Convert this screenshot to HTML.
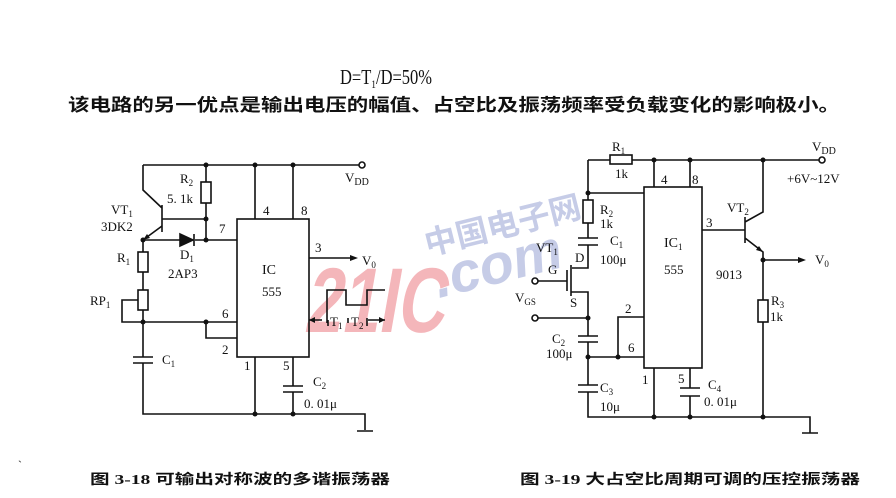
<!DOCTYPE html>
<html><head><meta charset="utf-8"><style>
html,body{margin:0;padding:0;background:#fff}
svg{display:block}
text{font-family:"Liberation Serif","Noto Serif CJK SC",serif;fill:#111}
.cj{font-family:"Liberation Serif","Noto Sans CJK SC",sans-serif;font-weight:bold}
</style></head><body>
<svg width="896" height="498" viewBox="0 0 896 498" xmlns="http://www.w3.org/2000/svg">
<!-- watermark -->
<g opacity="0.8">
<text x="362" y="332" font-size="92" transform="skewX(-10)" textLength="140" lengthAdjust="spacingAndGlyphs" style="font-family:'Liberation Sans',sans-serif;font-weight:bold;fill:#f2a4aa">21IC</text>
<text x="420" y="238" font-size="32" transform="rotate(-14 495 215)" style="font-family:'Noto Sans CJK SC',sans-serif;font-weight:bold;fill:#b8c0e2">中国电子网</text>
<text x="430" y="282" font-size="56" transform="rotate(-14 500 255)" style="font-family:'Liberation Sans',sans-serif;font-weight:bold;font-style:italic;fill:#b8c0e2">.com</text>
</g>
<text x="340" y="84" font-size="21" textLength="92" lengthAdjust="spacingAndGlyphs">D=T<tspan font-size="12" dy="4">1</tspan><tspan dy="-4">/D=50%</tspan></text>
<text x="68" y="111" class="cj" font-size="17.5" textLength="772" lengthAdjust="spacingAndGlyphs">该电路的另一优点是输出电压的幅值、占空比及振荡频率受负载变化的影响极小。</text>
<text x="90" y="484" class="cj" font-size="14" textLength="300" lengthAdjust="spacingAndGlyphs">图 3-18  可输出对称波的多谐振荡器</text>
<text x="520" y="484" class="cj" font-size="14" textLength="340" lengthAdjust="spacingAndGlyphs">图 3-19  大占空比周期可调的压控振荡器</text>
<text x="18" y="469" font-size="12">`</text>

<g stroke="#111" stroke-width="1.6" fill="none">
<!-- LEFT -->
<path d="M143 165H359"/><circle cx="362" cy="165" r="3" fill="#fff"/>
<rect x="237" y="219" width="72" height="138"/>
<path d="M255 165V219M293 165V219"/>
<path d="M206 165V182M206 203V240"/><rect x="201" y="182" width="10" height="21"/>
<path d="M143 165V190L162 208M162 205V232M162 219H206"/>
<path d="M162 226L143 240"/>
<path d="M143 240H180M195 240H237"/>
<path d="M180 234V246L193 240Z" fill="#111"/><path d="M194 234V246"/>
<path d="M143 240V252M143 272V290M143 310V357"/>
<rect x="138" y="252" width="10" height="20"/><rect x="138" y="290" width="10" height="20"/>
<path d="M138 300H122V322H237M206 322V338H237"/>
<path d="M133 357H153M133 363H153"/>
<path d="M143 363V414H365V430M357 431H373"/>
<path d="M255 357V414M293 357V386M293 392V414"/>
<path d="M283 386H303M283 392H303"/>
<path d="M309 258H352"/>
<path d="M327 323V290H346V305H367V290H385"/>
<path d="M309 320H322M328 320V326M348 323V318M367 318V326M368 320H385"/>
<!-- RIGHT -->
<path d="M588 160H610M632 160H819"/><circle cx="822" cy="160" r="3" fill="#fff"/>
<rect x="610" y="155" width="22" height="9"/>
<rect x="644" y="187" width="58" height="181"/>
<path d="M654 160V187M690 160V187"/>
<path d="M588 160V200M588 193H644M588 223V238M588 245V268H572"/>
<rect x="583" y="200" width="10" height="23"/>
<path d="M578 238H598M578 245H598"/>
<path d="M571 265V296M567 270V291"/>
<path d="M538 281H567M571 292H588V336"/>
<circle cx="535" cy="281" r="3" fill="#fff"/><circle cx="535" cy="318" r="3" fill="#fff"/>
<path d="M538 318H588"/>
<path d="M578 336H598M578 342H598"/>
<path d="M588 342V385M588 357H644M618 357V317H644"/>
<path d="M578 385H598M578 392H598"/>
<path d="M588 392V417H810V433M802 433H818"/>
<path d="M654 368V417M690 368V388M690 396V417"/>
<path d="M680 388H700M680 396H700"/>
<path d="M702 230H745M745 217V243M745 222L763 212V160M745 238L763 252V300M763 322V417"/>
<rect x="758" y="300" width="10" height="22"/>
<path d="M763 260H800"/>
</g>
<g fill="#111">
<circle cx="206" cy="165" r="2.5"/><circle cx="255" cy="165" r="2.5"/><circle cx="293" cy="165" r="2.5"/>
<circle cx="206" cy="219" r="2.5"/><circle cx="206" cy="240" r="2.5"/><circle cx="143" cy="240" r="2.5"/>
<circle cx="143" cy="322" r="2.5"/><circle cx="206" cy="322" r="2.5"/>
<circle cx="255" cy="414" r="2.5"/><circle cx="293" cy="414" r="2.5"/>
<path d="M143 240l4-6l3 4z"/>
<path d="M358 258l-8-3v6z"/>
<path d="M309 320l6-3v6zM385 320l-6-3v6z"/>
<circle cx="654" cy="160" r="2.5"/><circle cx="690" cy="160" r="2.5"/><circle cx="763" cy="160" r="2.5"/>
<circle cx="588" cy="193" r="2.5"/><circle cx="588" cy="318" r="2.5"/><circle cx="588" cy="357" r="2.5"/><circle cx="618" cy="357" r="2.5"/>
<circle cx="654" cy="417" r="2.5"/><circle cx="690" cy="417" r="2.5"/><circle cx="763" cy="417" r="2.5"/><circle cx="763" cy="260" r="2.5"/>
<path d="M763 252l-7-2l3-4z"/><path d="M806 260l-8-3v6z"/>
</g>
<g font-size="13">
<text x="345" y="182">V<tspan font-size="10" dy="3">DD</tspan></text>
<text x="180" y="183">R<tspan font-size="9" dy="3">2</tspan></text>
<text x="167" y="203">5. 1k</text>
<text x="111" y="214">VT<tspan font-size="9" dy="3">1</tspan></text>
<text x="101" y="231">3DK2</text>
<text x="180" y="259">D<tspan font-size="9" dy="3">1</tspan></text>
<text x="168" y="278">2AP3</text>
<text x="117" y="262">R<tspan font-size="9" dy="3">1</tspan></text>
<text x="90" y="305">RP<tspan font-size="9" dy="3">1</tspan></text>
<text x="162" y="364">C<tspan font-size="9" dy="3">1</tspan></text>
<text x="219" y="233">7</text><text x="263" y="215">4</text><text x="301" y="215">8</text>
<text x="315" y="252">3</text><text x="222" y="318">6</text><text x="222" y="354">2</text>
<text x="244" y="370">1</text><text x="283" y="370">5</text>
<text x="262" y="274" font-size="14">IC</text><text x="262" y="296">555</text>
<text x="362" y="265">V<tspan font-size="9" dy="3">0</tspan></text>
<text x="330" y="326">T<tspan font-size="9" dy="3">1</tspan></text><text x="351" y="326">T<tspan font-size="9" dy="3">2</tspan></text>
<text x="313" y="386">C<tspan font-size="9" dy="3">2</tspan></text>
<text x="304" y="408">0. 01μ</text>

<text x="612" y="151">R<tspan font-size="9" dy="3">1</tspan></text>
<text x="615" y="178">1k</text>
<text x="812" y="151">V<tspan font-size="10" dy="3">DD</tspan></text>
<text x="787" y="183">+6V~12V</text>
<text x="661" y="184">4</text><text x="692" y="184">8</text>
<text x="600" y="214">R<tspan font-size="9" dy="3">2</tspan></text><text x="600" y="228">1k</text>
<text x="610" y="245">C<tspan font-size="9" dy="3">1</tspan></text><text x="600" y="264">100μ</text>
<text x="536" y="252">VT<tspan font-size="9" dy="3">1</tspan></text>
<text x="575" y="262">D</text><text x="548" y="274">G</text><text x="570" y="307">S</text>
<text x="515" y="302">V<tspan font-size="9" dy="3">GS</tspan></text>
<text x="552" y="343">C<tspan font-size="9" dy="3">2</tspan></text><text x="546" y="358">100μ</text>
<text x="600" y="392">C<tspan font-size="9" dy="3">3</tspan></text><text x="600" y="411">10μ</text>
<text x="625" y="313">2</text><text x="628" y="352">6</text>
<text x="642" y="384">1</text><text x="678" y="383">5</text>
<text x="664" y="247" font-size="14">IC<tspan font-size="9" dy="3">1</tspan></text><text x="664" y="274">555</text>
<text x="706" y="227">3</text>
<text x="727" y="212">VT<tspan font-size="9" dy="3">2</tspan></text>
<text x="716" y="279">9013</text>
<text x="815" y="264">V<tspan font-size="9" dy="3">0</tspan></text>
<text x="771" y="305">R<tspan font-size="9" dy="3">3</tspan></text><text x="770" y="321">1k</text>
<text x="708" y="389">C<tspan font-size="9" dy="3">4</tspan></text><text x="704" y="406">0. 01μ</text>
</g>
</svg>
</body></html>
